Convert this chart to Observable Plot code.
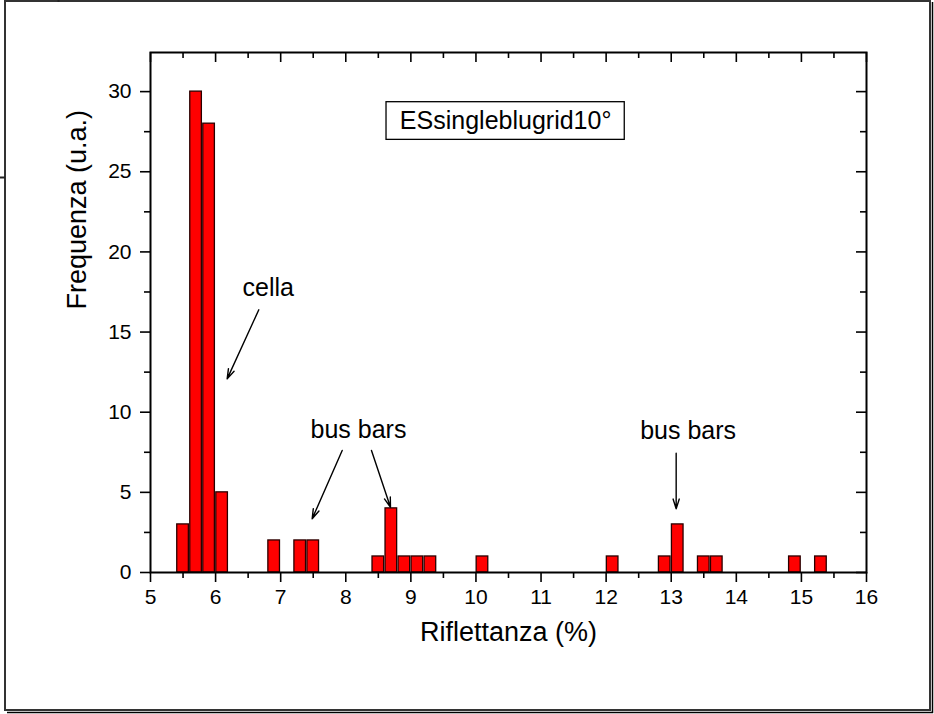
<!DOCTYPE html>
<html>
<head>
<meta charset="utf-8">
<script src="https://cdn.jsdelivr.net/npm/d3@7"></script>
<script src="https://cdn.jsdelivr.net/npm/@observablehq/plot@0.6"></script>
<style>
  body { margin: 0; background: #fff; }
  #chart { width: 934px; height: 714px; }
</style>
</head>
<body>
<div id="chart"></div>
<script>
// Histogram of reflectance values (bin centres, bin width 0.2 %)
const binCenters = [5.5, 5.7, 5.9, 6.1, 6.9, 7.3, 7.5, 8.5, 8.7, 8.9, 9.1, 9.3, 10.1, 12.1, 12.9, 13.1, 13.5, 13.7, 14.9, 15.3];
const counts     = [3,   30,  28,  5,   2,   2,   2,   1,   4,   1,   1,   1,   1,    1,    1,    3,    1,    1,    1,    1];
const binWidth = 0.2;

// Axis ticks
const xTicks = [5, 6, 7, 8, 9, 10, 11, 12, 13, 14, 15, 16];
const xMinorTicks = [5.5, 6.5, 7.5, 8.5, 9.5, 10.5, 11.5, 12.5, 13.5, 14.5, 15.5];
const yTicks = [0, 5, 10, 15, 20, 25, 30];
const yMinorTicks = [2.5, 7.5, 12.5, 17.5, 22.5, 27.5];

// Labels
const xLabel = "Riflettanza (%)";
const yLabel = "Frequenza (u.a.)";
const legendText = "ESsingleblugrid10°";

// Annotations (data coordinates)
const noteLabels = ["cella", "bus bars", "bus bars"];
const noteX = [6.81, 8.195, 13.26];
const noteY = [17.75, 8.9, 8.85];
const arrowStart = [[6.664, 16.39], [7.945, 7.61], [8.395, 7.61], [13.076, 7.44]];
const arrowEnd   = [[6.178, 12.08], [7.484, 3.35], [8.687, 4.07], [13.076, 3.97]];
const legendBox = {x1: 8.626, x2: 12.286, y1: 26.99, y2: 29.34};

const bins = binCenters.map((c, i) => ({center: c, count: counts[i]}));
const notes = noteLabels.map((t, i) => ({text: t, x: noteX[i], y: noteY[i]}));
const arrows = arrowStart.map((s, i) => ({x1: s[0], y1: s[1], x2: arrowEnd[i][0], y2: arrowEnd[i][1]}));

const W = 934, H = 714;
const mL = 150, mR = 68, mT = 52, mB = 142;
const xDomain = [5, 16], yDomain = [0, 32.44];
const kx = (W - mL - mR) / (xDomain[1] - xDomain[0]); // px per x unit
const ky = (H - mT - mB) / (yDomain[1] - yDomain[0]); // px per y unit
const major = 10, minor = 6;
const tickStyle = {stroke: "black", strokeWidth: 1.6};

const chart = Plot.plot({
  width: W,
  height: H,
  marginLeft: mL,
  marginRight: mR,
  marginTop: mT,
  marginBottom: mB,
  style: {fontFamily: "'Liberation Sans', Arial, sans-serif", fontSize: "21px", color: "black", background: "white"},
  x: {domain: xDomain},
  y: {domain: yDomain},
  marks: [
    Plot.rect(bins, {
      x1: d => d.center - binWidth / 2,
      x2: d => d.center + binWidth / 2,
      y1: 0,
      y2: "count",
      insetLeft: 0.7,
      insetRight: 0.7,
      fill: "#ff0000",
      stroke: "#2a0000",
      strokeWidth: 1.3
    }),
    // bottom and left axes (outward ticks with labels)
    Plot.axisX(xTicks, {anchor: "bottom", tickSize: major, tickPadding: 7, fontSize: 21, strokeWidth: 1.6, label: null}),
    Plot.axisY(yTicks, {anchor: "left", tickSize: major, tickPadding: 9, fontSize: 21, strokeWidth: 1.6, label: null}),
    // minor outward ticks
    Plot.ruleX(xMinorTicks, {x: d => d, y1: 0, y2: -minor / ky, ...tickStyle}),
    Plot.ruleY(yMinorTicks, {y: d => d, x1: xDomain[0], x2: xDomain[0] - minor / kx, ...tickStyle}),
    // inward ticks on top and right
    Plot.ruleX(xTicks, {x: d => d, y1: yDomain[1], y2: yDomain[1] - major / ky, ...tickStyle}),
    Plot.ruleX(xMinorTicks, {x: d => d, y1: yDomain[1], y2: yDomain[1] - minor / ky, ...tickStyle}),
    Plot.ruleY(yTicks, {y: d => d, x1: xDomain[1], x2: xDomain[1] - major / kx, ...tickStyle}),
    Plot.ruleY(yMinorTicks, {y: d => d, x1: xDomain[1], x2: xDomain[1] - minor / kx, ...tickStyle}),
    Plot.frame({stroke: "black", strokeWidth: 2}),
    // axis titles
    Plot.text([xLabel], {text: d => d, frameAnchor: "bottom", dy: 68, fontSize: 27, fill: "black"}),
    Plot.text([yLabel], {text: d => d, frameAnchor: "left", rotate: -90, dx: -73, dy: -3, fontSize: 27, fill: "black"}),
    // legend box
    Plot.rect([legendBox], {x1: "x1", x2: "x2", y1: "y1", y2: "y2", fill: "white", stroke: "black", strokeWidth: 1.3}),
    Plot.text([legendText], {text: d => d, x: (legendBox.x1 + legendBox.x2) / 2, y: (legendBox.y1 + legendBox.y2) / 2, fontSize: 25, fill: "black"}),
    // annotations
    Plot.text(notes, {x: "x", y: "y", text: "text", fontSize: 25, fill: "black"}),
    Plot.arrow(arrows, {x1: "x1", y1: "y1", x2: "x2", y2: "y2", stroke: "black", strokeWidth: 1.4, headLength: 11, headAngle: 35})
  ]
});

document.getElementById("chart").appendChild(chart);

// page border around the figure
const svg = d3.select(chart);
svg.append("rect")
  .attr("x", 5).attr("y", 1).attr("width", 925).attr("height", 709)
  .attr("fill", "none").attr("stroke", "#333").attr("stroke-width", 2);
svg.append("path")
  .attr("d", "M932.5,2V712.5H7")
  .attr("fill", "none").attr("stroke", "black").attr("stroke-width", 1.5);
svg.append("path")
  .attr("d", "M0,177.5H5M58.5,0V2")
  .attr("fill", "none").attr("stroke", "#222").attr("stroke-width", 2);
</script>
</body>
</html>
